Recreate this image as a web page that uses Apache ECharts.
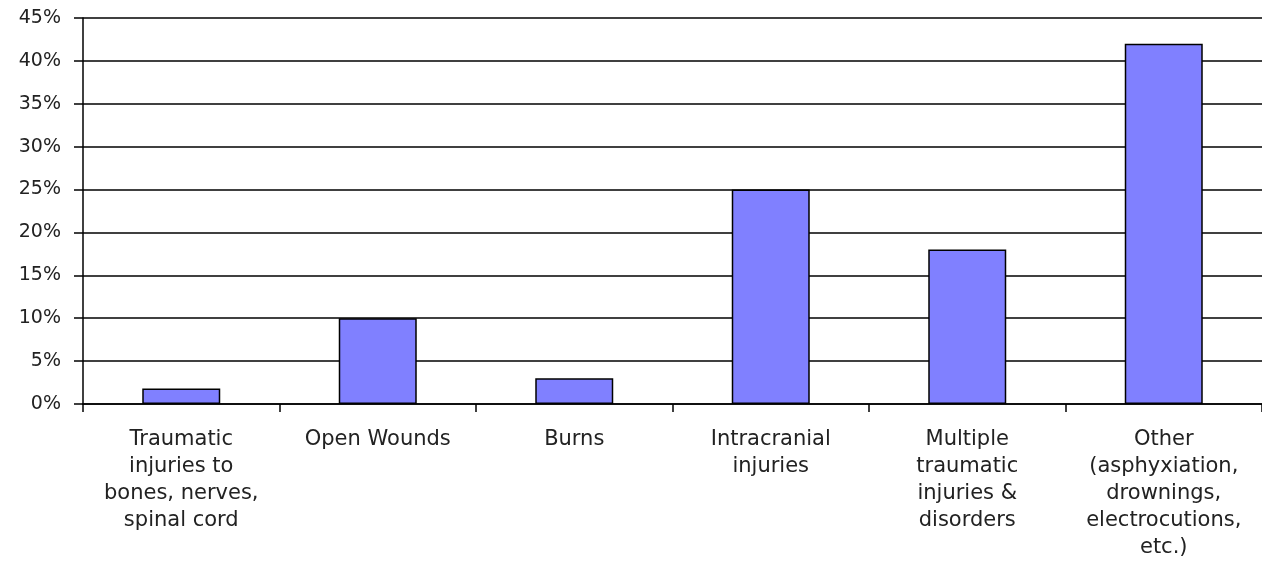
<!DOCTYPE html>
<html>
<head>
<meta charset="utf-8">
<script src="https://cdn.jsdelivr.net/npm/echarts@6/dist/echarts.min.js"></script>
<style>
html,body{margin:0;padding:0;background:#fff;}
#main{width:1262px;height:574px;}
</style>
</head>
<body>
<div id="main"></div>
<script>
const categories = [
  "Traumatic\ninjuries to\nbones, nerves,\nspinal cord",
  "Open Wounds",
  "Burns",
  "Intracranial\ninjuries",
  "Multiple\ntraumatic\ninjuries &\ndisorders",
  "Other\n(asphyxiation,\ndrownings,\nelectrocutions,\netc.)"
];
const values = [1.8, 10, 3, 25, 18, 42];
const yTicks = { min: 0, max: 45, interval: 5 };

const chart = echarts.init(document.getElementById('main'), null, { renderer: 'canvas' });
chart.setOption({
  animation: false,
  backgroundColor: '#ffffff',
  grid: { left: 83, right: 0, top: 18, bottom: 170, containLabel: false },
  xAxis: {
    type: 'category',
    data: categories,
    axisLine: { show: true, lineStyle: { color: '#000', width: 1.5 } },
    axisTick: { show: true, length: 8, lineStyle: { color: '#000', width: 1.5 } },
    axisLabel: {
      interval: 0,
      margin: 22,
      color: '#222',
      fontFamily: 'DejaVu Sans, Verdana, sans-serif',
      fontSize: 21,
      lineHeight: 27,
      align: 'center'
    },
    splitLine: { show: false }
  },
  yAxis: {
    type: 'value',
    min: yTicks.min,
    max: yTicks.max,
    interval: yTicks.interval,
    axisLine: { show: true, lineStyle: { color: '#000', width: 1.5 } },
    axisTick: { show: true, length: 9, lineStyle: { color: '#000', width: 1.5 } },
    axisLabel: {
      margin: 22,
      color: '#222',
      fontFamily: 'DejaVu Sans, Verdana, sans-serif',
      fontSize: 19,
      formatter: v => v + '%'
    },
    splitLine: { show: true, lineStyle: { color: '#000', width: 1.5 } }
  },
  series: [{
    type: 'bar',
    data: values,
    barWidth: 78,
    itemStyle: { color: '#8080FF', borderColor: '#000', borderWidth: 1.5 }
  }]
});
</script>
</body>
</html>
